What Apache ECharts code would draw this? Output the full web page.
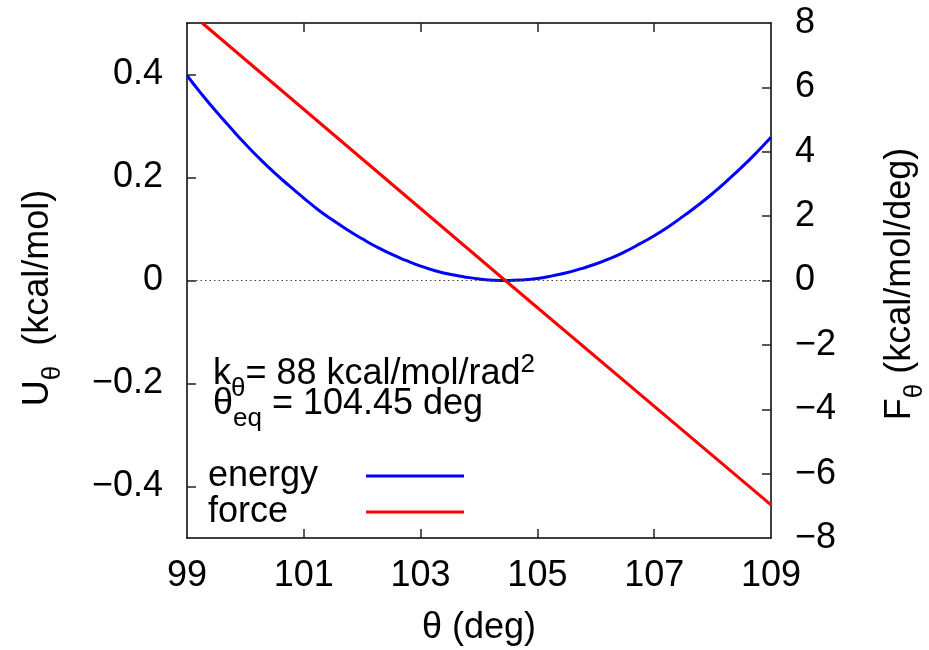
<!DOCTYPE html>
<html>
<head>
<meta charset="utf-8">
<script src="https://cdn.jsdelivr.net/npm/echarts@6/dist/echarts.min.js"></script>
<style>
html,body{margin:0;padding:0;background:#fff;}
#chart{width:929px;height:650px;}
</style>
</head>
<body>
<div id="chart"></div>
<script>
// ---- data ----
const thetaEnergy = [99, 99.25, 99.5, 99.75, 100, 100.25, 100.5, 100.75, 101, 101.25, 101.5, 101.75, 102, 102.25, 102.5, 102.75, 103, 103.25, 103.5, 103.75, 104, 104.25, 104.5, 104.75, 105, 105.25, 105.5, 105.75, 106, 106.25, 106.5, 106.75, 107, 107.25, 107.5, 107.75, 108, 108.25, 108.5, 108.75, 109];
const energyValues = [0.398, 0.362, 0.328, 0.296, 0.265, 0.236, 0.209, 0.184, 0.160, 0.137, 0.117, 0.098, 0.081, 0.065, 0.051, 0.039, 0.028, 0.019, 0.012, 0.007, 0.003, 0.0005, 0.0, 0.0012, 0.004, 0.009, 0.015, 0.023, 0.032, 0.043, 0.056, 0.071, 0.087, 0.105, 0.125, 0.146, 0.169, 0.194, 0.220, 0.248, 0.278];
const thetaForce = [99.26, 104.45, 109];
const forceValues = [8.0, 0.0, -6.97];
const xTickLabels = [99, 101, 103, 105, 107, 109];
const xInnerTicks = [101, 103, 105, 107];
const yLeftTicks = [-0.4, -0.2, 0, 0.2, 0.4];
const yRightTicks = [-8, -6, -4, -2, 0, 2, 4, 6, 8];
const seriesNames = ['energy', 'force'];

const FONT = 'Liberation Sans, Arial, Helvetica, sans-serif';
const minus = s => String(s).replace('-', '\u2212');

// axis ranges
const X_MIN = 99, X_MAX = 109, YL_MIN = -0.5, YL_MAX = 0.5, YR_MIN = -8, YR_MAX = 8;
// inward tick length as a fraction of each axis span (about 9 px)
const TICK_FRAC_X = 9 / 515;   // vertical ticks, fraction of y span
const TICK_FRAC_Y = 9 / 584;   // horizontal ticks, fraction of x span

const chart = echarts.init(document.getElementById('chart'), null, {renderer: 'canvas'});

const richStyles = {
  n: {fontSize: 36, verticalAlign: 'middle', fontFamily: FONT, color: '#000'},
  s: {fontSize: 26, verticalAlign: 'middle', padding: [30, 0, 0, 0], fontFamily: FONT, color: '#000'},
  p: {fontSize: 26, verticalAlign: 'middle', padding: [0, 0, 18, 0], fontFamily: FONT, color: '#000'}
};

const axisLineStyle = {show: true, onZero: false, lineStyle: {color: '#000', width: 1.5}};
const tickLine = {color: '#222', width: 1.5, type: 'solid'};

function xAxisDef(pos, showLabel) {
  return {
    type: 'value', min: X_MIN, max: X_MAX, position: pos,
    axisLine: axisLineStyle,
    splitLine: {show: false},
    axisTick: {show: false},
    axisLabel: {show: showLabel, customValues: xTickLabels, fontSize: 36, fontFamily: FONT, color: '#000', margin: 20}
  };
}

// tick segments expressed in data units, drawn by the library as markLines
const dyL = (YL_MAX - YL_MIN) * TICK_FRAC_X;
const dx = (X_MAX - X_MIN) * TICK_FRAC_Y;
const leftTickSegments = [];
xInnerTicks.forEach(v => {
  leftTickSegments.push([{coord: [v, YL_MIN], lineStyle: tickLine}, {coord: [v, YL_MIN + dyL]}]);
  leftTickSegments.push([{coord: [v, YL_MAX], lineStyle: tickLine}, {coord: [v, YL_MAX - dyL]}]);
});
yLeftTicks.forEach(v => {
  leftTickSegments.push([{coord: [X_MIN, v], lineStyle: tickLine}, {coord: [X_MIN + dx, v]}]);
});
const rightTickSegments = yRightTicks.filter(v => v > YR_MIN && v < YR_MAX).map(v =>
  [{coord: [X_MAX, v], lineStyle: tickLine}, {coord: [X_MAX - dx, v]}]);

const option = {
  animation: false,
  backgroundColor: '#fff',
  grid: {left: 187, right: 158, top: 23, bottom: 112, show: false, containLabel: false, outerBoundsMode: 'none'},
  xAxis: [xAxisDef('bottom', true), xAxisDef('top', false)],
  yAxis: [
    {
      type: 'value', min: YL_MIN, max: YL_MAX, position: 'left',
      axisLine: axisLineStyle, splitLine: {show: false}, axisTick: {show: false},
      axisLabel: {customValues: yLeftTicks, fontSize: 36, fontFamily: FONT, color: '#000', margin: 24,
        formatter: v => v === 0 ? '0' : minus(v.toFixed(1))}
    },
    {
      type: 'value', min: YR_MIN, max: YR_MAX, interval: 2, position: 'right',
      axisLine: axisLineStyle, splitLine: {show: false}, axisTick: {show: false},
      axisLabel: {customValues: yRightTicks, fontSize: 36, fontFamily: FONT, color: '#000', margin: 24,
        formatter: v => minus(v)}
    }
  ],
  legend: {
    orient: 'vertical', left: 208, top: 458, padding: 0, itemGap: 0,
    align: 'right', icon: 'rect', itemWidth: 98, itemHeight: 3,
    data: seriesNames,
    formatter: name => '{t|' + name + '}',
    textStyle: {fontSize: 36, fontFamily: FONT, color: '#000', lineHeight: 36,
      rich: {t: {fontSize: 36, fontFamily: FONT, color: '#000', width: 153, lineHeight: 36, align: 'left'}}}
  },
  series: [
    {
      name: seriesNames[0], type: 'line', xAxisIndex: 0, yAxisIndex: 0,
      data: thetaEnergy.map((t, i) => [t, energyValues[i]]),
      smooth: true, symbol: 'none', clip: true,
      lineStyle: {color: '#0000ff', width: 3}, itemStyle: {color: '#0000ff'},
      markLine: {
        silent: true, symbol: 'none', label: {show: false}, animation: false,
        lineStyle: {color: '#444', width: 1, type: [1.5, 3]},
        emphasis: {disabled: true},
        data: [{yAxis: 0}].concat(leftTickSegments)
      }
    },
    {
      name: seriesNames[1], type: 'line', xAxisIndex: 0, yAxisIndex: 1,
      data: thetaForce.map((t, i) => [t, forceValues[i]]),
      symbol: 'none', clip: true,
      lineStyle: {color: '#ff0000', width: 3}, itemStyle: {color: '#ff0000'},
      markLine: {
        silent: true, symbol: 'none', label: {show: false}, animation: false,
        lineStyle: tickLine,
        emphasis: {disabled: true},
        data: rightTickSegments
      }
    }
  ],
  graphic: [
    {type: 'text', x: 213, y: 374, silent: true,
      style: {text: '{n|k}{s|θ}{n|= 88 kcal/mol/rad}{p|2}', rich: richStyles, align: 'left', verticalAlign: 'middle'}},
    {type: 'text', x: 213, y: 404, silent: true,
      style: {text: '{n|θ}{s|eq}{n| = 104.45 deg}', rich: richStyles, align: 'left', verticalAlign: 'middle'}},
    {type: 'text', x: 38, y: 298, rotation: Math.PI / 2, silent: true,
      style: {text: '{n|U}{s|θ}{n|  (kcal/mol)}', rich: richStyles, align: 'center', verticalAlign: 'middle'}},
    {type: 'text', x: 900, y: 284, rotation: Math.PI / 2, silent: true,
      style: {text: '{n|F}{s|θ}{n| (kcal/mol/deg)}', rich: richStyles, align: 'center', verticalAlign: 'middle'}},
    {type: 'text', x: 479, y: 628, silent: true,
      style: {text: 'θ (deg)', fontSize: 36, fontFamily: FONT, fill: '#000', align: 'center', verticalAlign: 'middle'}}
  ]
};

chart.setOption(option);
</script>
</body>
</html>
